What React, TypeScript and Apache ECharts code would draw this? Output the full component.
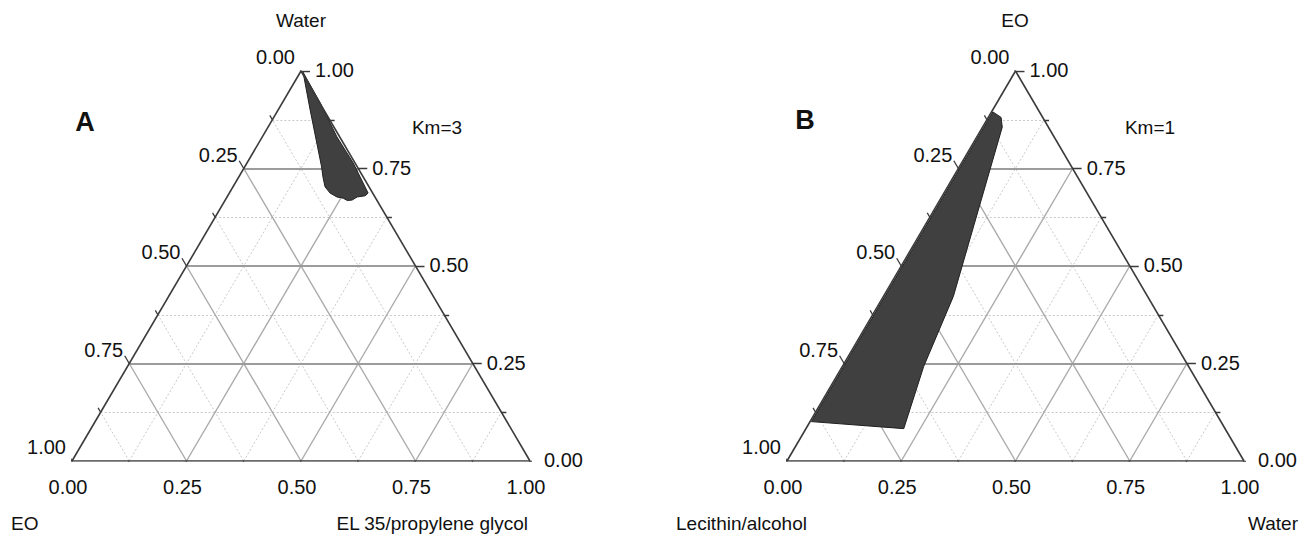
import React, { useEffect, useRef } from "react";
import * as echarts from "echarts";

// ---- tick values / labels (shared by all three axes of each triangle) ----
const majorValues = [0, 0.25, 0.5, 0.75, 1];
const majorLabels = ["0.00", "0.25", "0.50", "0.75", "1.00"];
const minorValues = [0.125, 0.375, 0.625, 0.875];
const innerMajor = [0.25, 0.5, 0.75];

// ---- Panel A: apex = Water, bottom-left = EO, bottom-right = EL 35/propylene glycol ----
// boundary traced apex -> right side -> bottom -> left side
const regionAWater = [0.997, 0.918, 0.831, 0.764, 0.687, 0.68, 0.677, 0.669, 0.668, 0.674, 0.677, 0.687, 0.703, 0.728, 0.754, 0.9];
const regionAEL35 = [0.006, 0.083, 0.163, 0.232, 0.303, 0.3, 0.284, 0.277, 0.267, 0.255, 0.24, 0.22, 0.201, 0.184, 0.168, 0.07];

// ---- Panel B: apex = EO, bottom-left = Lecithin/alcohol, bottom-right = Water ----
const regionBEO = [0.895, 0.881, 0.856, 0.422, 0.242, 0.083, 0.101];
const regionBWater = [0.003, 0.028, 0.043, 0.153, 0.178, 0.214, 0.003];

// layout (pixels)
const PANELS = [
  { left: 72, top: 71, width: 458, height: 390 },
  { left: 787, top: 71, width: 457, height: 390 },
];

const FONT = "'Liberation Sans', Arial, Helvetica, sans-serif";
const TICK_FONT = `20px ${FONT}`;
const TITLE_FONT = `19px ${FONT}`;

// ternary (top, right) -> cartesian data coords of the grid (x in [0,1], y in [0,1])
const toXY = (top: number, right: number): [number, number] => [right + top / 2, top];

function panelSeries(i: number, polyTop: number[], polyRight: number[]) {
  const g = PANELS[i];
  const ax = { xAxisIndex: i, yAxisIndex: i };
  const seg = (a: [number, number], b: [number, number]) => ({ coords: [a, b] });

  const horiz = (v: number) => seg([v / 2, v], [1 - v / 2, v]); // top = v
  const rightConst = (v: number) => seg([v, 0], [v + (1 - v) / 2, 1 - v]); // right = v
  const leftConst = (v: number) => seg([1 - v, 0], [(1 - v) / 2, 1 - v]); // left = v

  const minorLines = minorValues.flatMap((v) => [horiz(v), rightConst(v), leftConst(v)]);
  const majorH = innerMajor.map(horiz);
  const majorS = innerMajor.flatMap((v) => [rightConst(v), leftConst(v)]);

  const edges = [seg([0, 0], [1, 0]), seg([0, 0], [0.5, 1]), seg([1, 0], [0.5, 1])];

  // tick directions in pixel units converted to data units
  const ux = 1 / g.width, uy = 1 / g.height;
  const ticks: any[] = [];
  const tickAt = (v: number, len: number) => {
    const b: [number, number] = [v, 0];
    ticks.push(seg(b, [b[0] - 0.5066 * len * ux, b[1] - 0.8627 * len * uy]));
    const r: [number, number] = [1 - v / 2, v];
    ticks.push(seg(r, [r[0] + len * ux, r[1]]));
    const l: [number, number] = [(1 - v) / 2, 1 - v];
    ticks.push(seg(l, [l[0] - 0.5066 * len * ux, l[1] + 0.8627 * len * uy]));
  };
  majorValues.forEach((v) => tickAt(v, 9));
  minorValues.forEach((v) => tickAt(v, 5));

  const labelSpec: { pos: [number, number]; text: string; align: string; dx: number; dy: number }[] = [];
  majorValues.forEach((v, k) => {
    labelSpec.push({ pos: [v, 0], text: majorLabels[k], align: "center", dx: -4, dy: 26 });
    labelSpec.push({ pos: [1 - v / 2, v], text: majorLabels[k], align: "left", dx: 14, dy: -1 });
    labelSpec.push({ pos: [(1 - v) / 2, 1 - v], text: majorLabels[k], align: "right", dx: -6, dy: -14 });
  });

  const polyPts = polyTop.map((t, k) => toXY(t, polyRight[k]));

  return [
    {
      type: "lines", coordinateSystem: "cartesian2d", ...ax, silent: true, z: 1,
      lineStyle: { color: "#c8c8c8", width: 1, type: [2, 2], opacity: 1 },
      data: minorLines,
    },
    {
      type: "lines", coordinateSystem: "cartesian2d", ...ax, silent: true, z: 2,
      lineStyle: { color: "#aaaaaa", width: 1.4, opacity: 1 },
      data: majorS,
    },
    {
      type: "lines", coordinateSystem: "cartesian2d", ...ax, silent: true, z: 2,
      lineStyle: { color: "#9c9c9c", width: 2, opacity: 1 },
      data: majorH,
    },
    {
      type: "custom", ...ax, silent: true, z: 3,
      data: [polyPts[0]],
      renderItem: (_p: any, api: any) => ({
        type: "polygon",
        shape: { points: polyPts.map((p) => api.coord(p)) },
        style: { fill: "#404040", stroke: "#202020", lineWidth: 1 },
      }),
    },
    {
      type: "lines", coordinateSystem: "cartesian2d", ...ax, silent: true, z: 4,
      lineStyle: { color: "#3a3a3a", width: 1.6, opacity: 1 },
      data: edges,
    },
    {
      type: "lines", coordinateSystem: "cartesian2d", ...ax, silent: true, z: 4,
      lineStyle: { color: "#3a3a3a", width: 1.3, opacity: 1 },
      data: ticks,
    },
    {
      type: "custom", ...ax, silent: true, z: 5,
      data: labelSpec.map((s) => s.pos),
      renderItem: (p: any, api: any) => {
        const s = labelSpec[p.dataIndex];
        const c = api.coord(s.pos);
        return {
          type: "text",
          x: c[0] + s.dx,
          y: c[1] + s.dy,
          style: { text: s.text, font: TICK_FONT, fill: "#111", align: s.align, verticalAlign: "middle" },
        };
      },
    },
  ];
}

function txt(text: string, x: number, y: number, align: string, font = TITLE_FONT) {
  return {
    type: "text", x, y, silent: true,
    style: { text, font, fill: "#111", align, verticalAlign: "middle", textAlign: align, textVerticalAlign: "middle" },
  };
}

export default function App() {
  const ref = useRef<HTMLDivElement>(null);
  useEffect(() => {
    if (!ref.current) return;
    const chart = echarts.init(ref.current, undefined, { renderer: "svg" });
    const grids = PANELS.map((g) => ({ left: g.left, top: g.top, width: g.width, height: g.height }));
    const axes = PANELS.map((_, i) => ({ type: "value", gridIndex: i, min: 0, max: 1, show: false }));
    chart.setOption({
      animation: false,
      backgroundColor: "#ffffff",
      grid: grids,
      xAxis: axes,
      yAxis: axes,
      graphic: [
        txt("Water", 301, 20, "center"),
        txt("EO", 11, 523, "left"),
        txt("EL 35/propylene glycol", 528, 523, "right"),
        txt("A", 85, 122, "center", `bold 27px ${FONT}`),
        txt("Km=3", 437, 127, "center"),
        txt("EO", 1015, 20, "center"),
        txt("Lecithin/alcohol", 676, 523, "left"),
        txt("Water", 1298, 523, "right"),
        txt("B", 805, 120, "center", `bold 27px ${FONT}`),
        txt("Km=1", 1150, 127, "center"),
      ],
      series: [
        ...panelSeries(0, regionAWater, regionAEL35),
        ...panelSeries(1, regionBEO, regionBWater),
      ],
    });
    return () => chart.dispose();
  }, []);
  return <div ref={ref} style={{ position: "fixed", left: 0, top: 0, width: 1312, height: 538 }} />;
}
